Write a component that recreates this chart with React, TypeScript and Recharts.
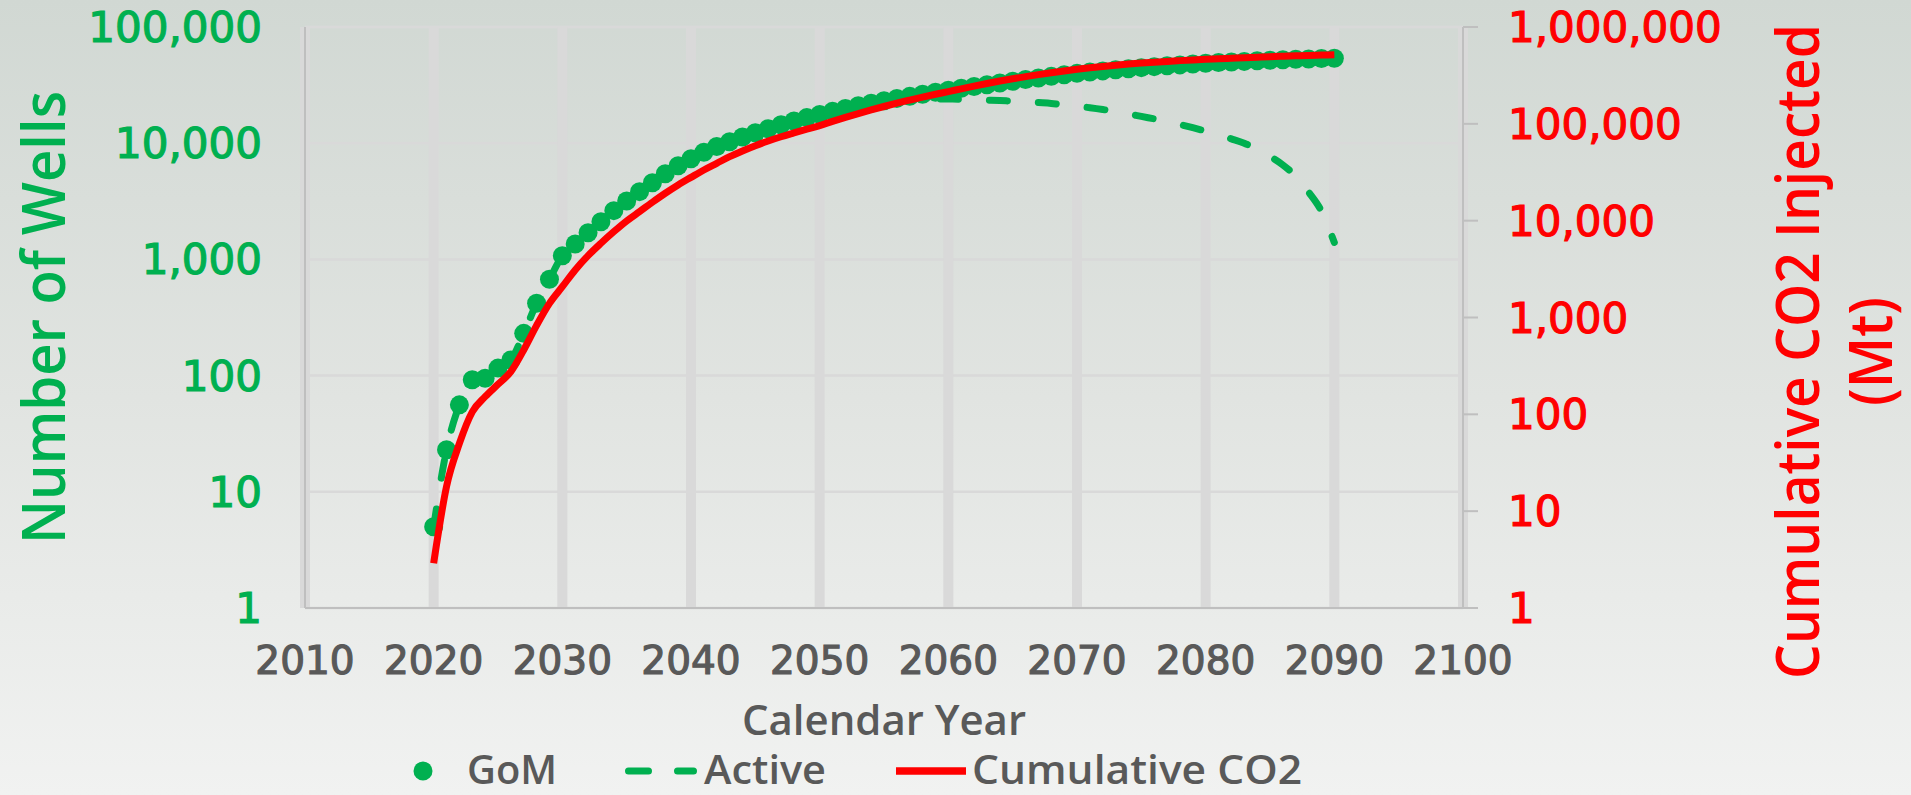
import React from "react";
import { LineChart, Line, XAxis, YAxis, CartesianGrid, Legend } from "recharts";

const GREEN = "#00B050";
const RED = "#FF0000";
const GRAY = "#595959";
const AXIS = "#BFBFBF";
const GRID = "#D9D9D9";

const years = [
  2020, 2021, 2022, 2023, 2024, 2025, 2026, 2027, 2028, 2029,
  2030, 2031, 2032, 2033, 2034, 2035, 2036, 2037, 2038, 2039,
  2040, 2041, 2042, 2043, 2044, 2045, 2046, 2047, 2048, 2049,
  2050, 2051, 2052, 2053, 2054, 2055, 2056, 2057, 2058, 2059,
  2060, 2061, 2062, 2063, 2064, 2065, 2066, 2067, 2068, 2069,
  2070, 2071, 2072, 2073, 2074, 2075, 2076, 2077, 2078, 2079,
  2080, 2081, 2082, 2083, 2084, 2085, 2086, 2087, 2088, 2089,
  2090,
];

// total wells drilled in the Gulf of Mexico
const gomWells = [
  5, 23, 56, 92, 95, 116, 136, 231, 419, 674,
  1076, 1358, 1698, 2112, 2628, 3182, 3830, 4570, 5450, 6400,
  7350, 8350, 9350, 10300, 11300, 12300, 13300, 14400, 15500, 16600,
  17700, 18800, 19900, 21000, 22100, 23200, 24300, 25300, 26400, 27500,
  28600, 29700, 30800, 31900, 33000, 34100, 35300, 36400, 37600, 38800,
  39900, 40900, 41900, 42900, 43800, 44700, 45600, 46400, 47200, 48000,
  48700, 49400, 50000, 50600, 51200, 51800, 52300, 52700, 53100, 53500,
  53800,
];

// wells still injecting
const activeWells = [
  5, 23, 56, 92, 95, 116, 136, 231, 419, 674,
  1076, 1358, 1698, 2112, 2628, 3182, 3830, 4570, 5450, 6400,
  7350, 8350, 9350, 10300, 11300, 12300, 13300, 14400, 15500, 16600,
  17700, 18800, 19900, 21000, 22100, 23200, 23800, 24100, 24200, 24100,
  24000, 23900, 23700, 23500, 23300, 23000, 22800, 22400, 22000, 21400,
  20800, 20200, 19500, 18700, 17900, 17000, 16200, 15400, 14500, 13600,
  12700, 11800, 10900, 10000, 8900, 7700, 6500, 5200, 3800, 2600,
  1400,
];

// cumulative CO2 injected, Mt
const cumulativeCO2 = [
  2.9, 18, 50, 106, 152, 204, 276, 462, 830, 1400,
  2080, 3100, 4350, 5840, 7690, 9930, 12400, 15500, 19200, 23400,
  28000, 33400, 39100, 45800, 52500, 59500, 66500, 73500, 80500, 88000,
  96000, 106000, 116500, 127500, 139000, 151000, 163500, 176000, 189000, 202000,
  215000, 230000, 245500, 261000, 276500, 292000, 307000, 322000, 337000, 352000,
  366000, 379000, 391500, 403000, 414000, 424000, 433000, 441500, 449500, 457000,
  464000, 470000, 476000, 482000, 488000, 494000, 499000, 504000, 509000, 513000,
  517000,
];

const yearTicks = [2010, 2020, 2030, 2040, 2050, 2060, 2070, 2080, 2090, 2100];
const gridYears = [2020, 2030, 2040, 2050, 2060, 2070, 2080, 2090, 2100];
const wellTicks = [1, 10, 100, 1000, 10000, 100000];
const co2Ticks = [1, 10, 100, 1000, 10000, 100000, 1000000];

const data = years.map((year, i) => ({
  year,
  gom: gomWells[i],
  active: activeWells[i],
  co2: cumulativeCO2[i],
}));

const fmt = (v: number) => v.toLocaleString("en-US");

const TICK_FONT = "'DejaVu Sans', Verdana, sans-serif";
const TITLE_FONT = "'Open Sans', 'Noto Sans', sans-serif";

const YearTick = ({ x, y, payload }: any) => (
  <text
    x={x}
    y={y + 66}
    textAnchor="middle"
    fontFamily={TICK_FONT}
    fontSize={39}
    fill={GRAY}
    stroke={GRAY}
    strokeWidth={1.2}
  >
    {payload.value}
  </text>
);

const WellTick = ({ x, y, payload }: any) => (
  <text
    x={x - 43}
    y={y + 15}
    textAnchor="end"
    fontFamily={TICK_FONT}
    fontSize={42}
    fill={GREEN}
    stroke={GREEN}
    strokeWidth={1.2}
  >
    {fmt(payload.value)}
  </text>
);

const CO2Tick = ({ x, y, payload }: any) => (
  <text
    x={x + 30}
    y={y + 15}
    textAnchor="start"
    fontFamily={TICK_FONT}
    fontSize={42}
    fill={RED}
    stroke={RED}
    strokeWidth={1.2}
  >
    {fmt(payload.value)}
  </text>
);

// vertical title, squeezed along its length to a condensed look
const VerticalTitle = ({
  x,
  y,
  text,
  color,
  length,
  squeeze,
}: {
  x: number;
  y: number;
  text: string;
  color: string;
  length: number;
  squeeze: number;
}) => (
  <text
    x={0}
    y={0}
    transform={`translate(${x}, ${y}) rotate(-90) scale(${squeeze}, 1)`}
    textAnchor="middle"
    fontFamily={TITLE_FONT}
    fontWeight={600}
    fontSize={60}
    fill={color}
    textLength={length / squeeze}
    lengthAdjust="spacingAndGlyphs"
  >
    {text}
  </text>
);

const WellsTitle = (props: any) => {
  const vb = props.viewBox ?? { x: 0, y: 27, width: 305, height: 581 };
  return (
    <VerticalTitle
      x={vb.x + 65}
      y={vb.y + vb.height / 2}
      text="Number of Wells"
      color={GREEN}
      length={453}
      squeeze={0.92}
    />
  );
};

const CO2Title = (props: any) => {
  const vb = props.viewBox ?? { x: 1463, y: 27, width: 448, height: 581 };
  const cy = vb.y + vb.height / 2 + 34;
  return (
    <g>
      <VerticalTitle
        x={vb.x + 356}
        y={cy}
        text="Cumulative CO2 Injected"
        color={RED}
        length={655}
        squeeze={0.92}
      />
      <VerticalTitle x={vb.x + 429} y={cy} text="(Mt)" color={RED} length={109} squeeze={0.92} />
    </g>
  );
};

const YearTitle = (props: any) => {
  const vb = props.viewBox ?? { x: 305, y: 608, width: 1158, height: 187 };
  return (
    <text
      x={vb.x + vb.width / 2}
      y={vb.y + 127}
      textAnchor="middle"
      fontFamily={TITLE_FONT}
      fontWeight={600}
      fontSize={42}
      fill={GRAY}
      textLength={284}
      lengthAdjust="spacingAndGlyphs"
    >
      Calendar Year
    </text>
  );
};

// legend row: icon start and label start, in px across the chart
const legendItems = [
  { label: "GoM", kind: "dot", iconX: 413, textX: 467, textWidth: 90 },
  { label: "Active", kind: "dash", iconX: 625, textX: 704, textWidth: 122 },
  { label: "Cumulative CO2", kind: "line", iconX: 896, textX: 972, textWidth: 330 },
];

const LEGEND_MID = 36;

const LegendRow = () => (
  <svg width={1911} height={60} style={{ display: "block" }}>
    {legendItems.map((item) => (
      <g key={item.label}>
        {item.kind === "dot" && (
          <circle cx={item.iconX + 10} cy={LEGEND_MID} r={9.5} fill={GREEN} />
        )}
        {item.kind === "dash" && (
          <path
            d={`M${item.iconX + 3.5} ${LEGEND_MID} H${item.iconX + 68.5}`}
            stroke={GREEN}
            strokeWidth={7}
            strokeDasharray="20 29"
            strokeLinecap="round"
          />
        )}
        {item.kind === "line" && (
          <path
            d={`M${item.iconX} ${LEGEND_MID} H${item.iconX + 70}`}
            stroke={RED}
            strokeWidth={7.5}
          />
        )}
        <text
          x={item.textX}
          y={49}
          fontFamily={TITLE_FONT}
          fontWeight={600}
          fontSize={40}
          fill={GRAY}
          textLength={item.textWidth}
          lengthAdjust="spacingAndGlyphs"
        >
          {item.label}
        </text>
      </g>
    ))}
  </svg>
);

export default function App() {
  return (
    <div
      style={{
        position: "absolute",
        left: 0,
        top: 0,
        width: 1911,
        height: 795,
        overflow: "hidden",
        background: "linear-gradient(180deg, #d1d8d3 0%, #e1e4e1 50%, #f1f2f1 100%)",
      }}
    >
      <LineChart
        width={1911}
        height={795}
        data={data}
        margin={{ top: 27, right: 0, bottom: 0, left: 0 }}
      >
        <CartesianGrid yAxisId="left" vertical={false} stroke={GRID} strokeWidth={2.5} />
        <CartesianGrid xAxisId="grid" yAxisId="left" horizontal={false} stroke={GRID} strokeWidth={10} />
        <XAxis
          dataKey="year"
          type="number"
          domain={[2010, 2100]}
          ticks={yearTicks}
          interval={0}
          height={187}
          tickSize={0}
          tickMargin={0}
          tickLine={false}
          axisLine={{ stroke: AXIS, strokeWidth: 2 }}
          tick={<YearTick />}
          label={{ content: YearTitle }}
        />
        <XAxis
          xAxisId="grid"
          dataKey="year"
          type="number"
          domain={[2010, 2100]}
          ticks={gridYears}
          interval={0}
          hide
        />
        <YAxis
          yAxisId="left"
          orientation="left"
          scale="log"
          type="number"
          domain={[1, 100000]}
          ticks={wellTicks}
          interval={0}
          allowDataOverflow
          width={305}
          tickSize={0}
          tickMargin={0}
          tickLine={false}
          axisLine={{ stroke: AXIS, strokeWidth: 2 }}
          tick={<WellTick />}
          label={{ content: WellsTitle }}
        />
        <YAxis
          yAxisId="right"
          orientation="right"
          scale="log"
          type="number"
          domain={[1, 1000000]}
          ticks={co2Ticks}
          interval={0}
          allowDataOverflow
          width={448}
          tickSize={15}
          tickMargin={0}
          tickLine={{ stroke: AXIS, strokeWidth: 2 }}
          axisLine={{ stroke: AXIS, strokeWidth: 2 }}
          tick={<CO2Tick />}
          label={{ content: CO2Title }}
        />
        <Legend
          layout="horizontal"
          verticalAlign="middle"
          align="center"
          wrapperStyle={{ left: 0, top: 735, width: 1911, height: 60 }}
          content={() => <LegendRow />}
        />
        <Line
          yAxisId="left"
          dataKey="gom"
          name="GoM"
          stroke="none"
          strokeWidth={0}
          dot={{ r: 9.5, fill: GREEN, stroke: GREEN, strokeWidth: 0 }}
          activeDot={false}
          isAnimationActive={false}
        />
        <Line
          yAxisId="left"
          dataKey="active"
          name="Active"
          type="monotone"
          stroke={GREEN}
          strokeWidth={7}
          strokeDasharray="18 31"
          strokeLinecap="round"
          dot={false}
          activeDot={false}
          isAnimationActive={false}
        />
        {/* red series sits above the well markers */}
        <Line
          yAxisId="right"
          dataKey="co2"
          name="Cumulative CO2"
          type="monotone"
          stroke={RED}
          strokeWidth={7}
          dot={false}
          activeDot={false}
          isAnimationActive={false}
          zIndex={700}
        />
      </LineChart>
    </div>
  );
}
